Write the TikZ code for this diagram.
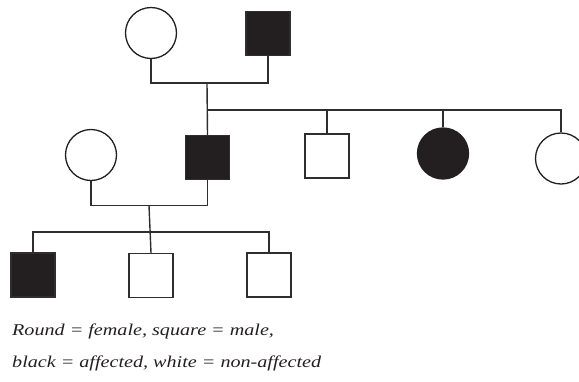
\documentclass[tikz,border=0pt]{standalone}
\usepackage{fontspec}
\setmainfont{Liberation Serif}
\newfontfamily\legendfont[FakeStretch=1.22]{Liberation Serif}
\definecolor{ink}{HTML}{231F20}
\definecolor{lines}{HTML}{2E2E2E}
\tikzset{
  fem/.style={circle, draw=ink, line width=1.3pt, minimum size=51pt, inner sep=0pt},
  mal/.style={rectangle, draw=lines, line width=1.3pt, minimum size=44pt, inner sep=0pt},
  aff/.style={fill=ink},
  link/.style={draw=lines, line width=1.4pt},
  legend/.style={anchor=base west, inner sep=0pt, font=\legendfont\fontsize{16.5}{19}\selectfont\itshape, text=ink}
}
\begin{document}
\begin{tikzpicture}[x=1pt, y=-1pt]
\useasboundingbox (0,0) rectangle (579,381);
% generation I
\node[fem] (f1) at (151,33) {};
\node[mal, aff] (m1) at (268,33.5) {};
% generation II
\node[fem] (f2) at (91,155) {};
\node[mal, aff] (m2) at (207.5,157.5) {};
\node[mal] (m3) at (327,156) {};
\node[fem, aff] (f3) at (443,153.5) {};
\node[fem] (f4) at (561,158.5) {};
% generation III
\node[mal, aff] (c1) at (33,275) {};
\node[mal] (c2) at (151,275.5) {};
\node[mal] (c3) at (269,275) {};
% junction points
\coordinate (u1) at (207,83);
\coordinate (s1) at (207,110);
\coordinate (u2) at (149,205.5);
\coordinate (k1) at (149,232);
% connectors
\draw[link] (f1.south) |- (u1) -| (m1.south);
\draw[link] (u1) -- (m2.north);
\draw[link] (s1) -| (f4.north);
\draw[link] (m3.north) -- (m3.north |- s1);
\draw[link] (f3.north) -- (f3.north |- s1);
\draw[link] (f2.south) |- (u2) -| (m2.south);
\draw[link] (u2) -- (c2.north);
\draw[link] (c1.north) |- (k1) -| (c3.north);
% legend
\node[legend] (l1) at (12,335) {Round = female, square = male,};
\node[legend] (l2) at (12,367) {black = affected, white = non-affected};
\end{tikzpicture}
\end{document}
